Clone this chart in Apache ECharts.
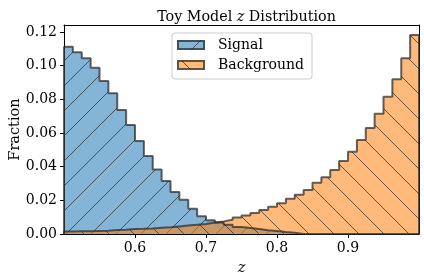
<!DOCTYPE html>
<html>
<head>
<meta charset="utf-8">
<script src="https://cdn.jsdelivr.net/npm/echarts@6/dist/echarts.min.js"></script>
<style>
html,body{margin:0;padding:0;background:#fff;}
#chart{width:424px;height:280px;}
</style>
</head>
<body>
<div id="chart"></div>
<script>
// ---- data ----
const binStart = 0.5;
const binWidth = 0.0125;
const signalValues = [
  0.1113, 0.1080, 0.1044, 0.0988, 0.0909, 0.0836, 0.0737, 0.0648, 0.0553, 0.0463,
  0.0384, 0.0315, 0.0250, 0.0204, 0.0150, 0.0106, 0.0082, 0.0068, 0.0055, 0.0042,
  0.0036, 0.0030, 0.0022, 0.0018, 0.0012, 0.0008, 0, 0, 0, 0,
  0, 0, 0, 0, 0, 0, 0, 0, 0, 0
];
const backgroundValues = [
  0.0015, 0.0016, 0.0017, 0.0018, 0.0019, 0.0024, 0.0025, 0.0030, 0.0031, 0.0033,
  0.0037, 0.0040, 0.0045, 0.0050, 0.0055, 0.0060, 0.0068, 0.0075, 0.0085, 0.0098,
  0.0110, 0.0125, 0.0142, 0.0162, 0.0182, 0.0210, 0.0233, 0.0261, 0.0305, 0.0337,
  0.0380, 0.0434, 0.0489, 0.0559, 0.0630, 0.0715, 0.0816, 0.0919, 0.1044, 0.1182
];
const seriesNames = ['Signal', 'Background'];
const xTicks = [0.6, 0.7, 0.8, 0.9];
const yTicks = [0, 0.02, 0.04, 0.06, 0.08, 0.10, 0.12];

// ---- helpers ----
function stepData(vals) {
  const pts = [[binStart, 0]];
  for (let i = 0; i < vals.length; i++) pts.push([binStart + i * binWidth, vals[i]]);
  const end = binStart + vals.length * binWidth;
  pts.push([end, vals[vals.length - 1]]);
  pts.push([end, 0]);
  return pts;
}
function hatchTile(fill, dir) {
  const s = 25;
  const c = document.createElement('canvas');
  c.width = s; c.height = s;
  const g = c.getContext('2d');
  g.fillStyle = fill;
  g.fillRect(0, 0, s, s);
  g.strokeStyle = 'rgba(40,40,40,0.7)';
  g.lineWidth = 1;
  g.beginPath();
  for (let k = -1; k <= 1; k++) {
    if (dir === '/') { g.moveTo(-2 + k * s, s + 2); g.lineTo(s + 2 + k * s, -2); }
    else { g.moveTo(-2 + k * s, -2); g.lineTo(s + 2 + k * s, s + 2); }
  }
  g.stroke();
  return c;
}
function legendIcon(fill, dir) {
  const w = 28, h = 10;
  const c = document.createElement('canvas');
  c.width = w; c.height = h;
  const g = c.getContext('2d');
  g.fillStyle = '#fff'; g.fillRect(0, 0, w, h);
  g.fillStyle = fill; g.fillRect(0, 0, w, h);
  g.strokeStyle = 'rgba(40,40,40,0.7)';
  g.lineWidth = 1;
  g.beginPath();
  if (dir === '/') { g.moveTo(14, h); g.lineTo(24, 0); }
  else { g.moveTo(4, 0); g.lineTo(14, h); }
  g.stroke();
  g.strokeStyle = 'rgba(40,40,40,0.72)';
  g.lineWidth = 2;
  g.strokeRect(1, 1, w - 2, h - 2);
  return c.toDataURL();
}

const blueFill = 'rgba(31,119,180,0.55)';
const orangeFill = 'rgba(255,127,14,0.55)';
const edge = 'rgba(40,40,40,0.72)';
const serif = 'DejaVu Serif';

const chart = echarts.init(document.getElementById('chart'), null, {renderer: 'canvas'});
chart.setOption({
  animation: false,
  backgroundColor: '#fff',
  title: {
    text: 'Toy Model {i|z} Distribution',
    left: 241.5,
    textAlign: 'center',
    top: 5,
    textStyle: {
      fontFamily: serif, fontSize: 14.3, fontWeight: 'normal', color: '#000',
      rich: {i: {fontFamily: serif, fontSize: 14.3, fontStyle: 'italic', color: '#000'}}
    }
  },
  legend: {
    orient: 'vertical',
    left: 172, top: 33,
    padding: [3, 8, 5, 5],
    itemGap: 2,
    itemWidth: 28, itemHeight: 10,
    backgroundColor: 'rgba(255,255,255,0.8)',
    borderColor: '#cccccc', borderWidth: 1, borderRadius: 3,
    textStyle: {fontFamily: serif, fontSize: 14, color: '#000', lineHeight: 18, padding: [0, 0, 0, 8]},
    data: [
      {name: seriesNames[0], icon: 'image://' + legendIcon(blueFill, '/')},
      {name: seriesNames[1], icon: 'image://' + legendIcon(orangeFill, '\\')}
    ]
  },
  grid: {left: 64, top: 25, width: 355, height: 209, containLabel: false, outerBoundsMode: 'none'},
  xAxis: [{
    type: 'value', min: 0.5, max: 1.0,
    name: 'z', nameLocation: 'middle', nameGap: 27, nameMoveOverlap: false,
    nameTextStyle: {fontFamily: serif, fontSize: 14.5, fontStyle: 'italic', color: '#000'},
    axisLine: {show: true, onZero: false, lineStyle: {color: '#000', width: 1}},
    axisTick: {show: true, length: 4, lineStyle: {color: '#000'}, customValues: xTicks},
    axisLabel: {fontFamily: serif, fontSize: 14, color: '#000', margin: 7,
      customValues: xTicks, formatter: v => v.toFixed(1)},
    splitLine: {show: false}
  }, {
    type: 'value', min: 0.5, max: 1.0, position: 'top',
    axisLine: {show: true, onZero: false, lineStyle: {color: '#000', width: 1}},
    axisTick: {show: false}, axisLabel: {show: false}, splitLine: {show: false}
  }],
  yAxis: [{
    type: 'value', min: 0, max: 0.1242,
    name: 'Fraction', nameLocation: 'middle', nameGap: 41, nameRotate: 90, nameMoveOverlap: false,
    nameTextStyle: {fontFamily: serif, fontSize: 14.5, color: '#000'},
    axisLine: {show: true, onZero: false, lineStyle: {color: '#000', width: 1}},
    axisTick: {show: true, length: 4, lineStyle: {color: '#000'}, customValues: yTicks},
    axisLabel: {fontFamily: serif, fontSize: 14, color: '#000', margin: 7,
      customValues: yTicks, formatter: v => v.toFixed(2)},
    splitLine: {show: false}
  }, {
    type: 'value', min: 0, max: 0.1242, position: 'right',
    axisLine: {show: true, onZero: false, lineStyle: {color: '#000', width: 1}},
    axisTick: {show: false}, axisLabel: {show: false}, splitLine: {show: false}
  }],
  series: [{
    name: seriesNames[0], type: 'line', step: 'end',
    data: stepData(signalValues),
    showSymbol: false, symbol: 'none',
    lineStyle: {color: edge, width: 2},
    itemStyle: {color: blueFill},
    areaStyle: {color: {image: hatchTile(blueFill, '/'), repeat: 'repeat'}, opacity: 1, origin: 'start'}
  }, {
    name: seriesNames[1], type: 'line', step: 'end',
    data: stepData(backgroundValues),
    showSymbol: false, symbol: 'none',
    lineStyle: {color: edge, width: 2},
    itemStyle: {color: orangeFill},
    areaStyle: {color: {image: hatchTile(orangeFill, '\\'), repeat: 'repeat'}, opacity: 1, origin: 'start'}
  }]
});
</script>
</body>
</html>
